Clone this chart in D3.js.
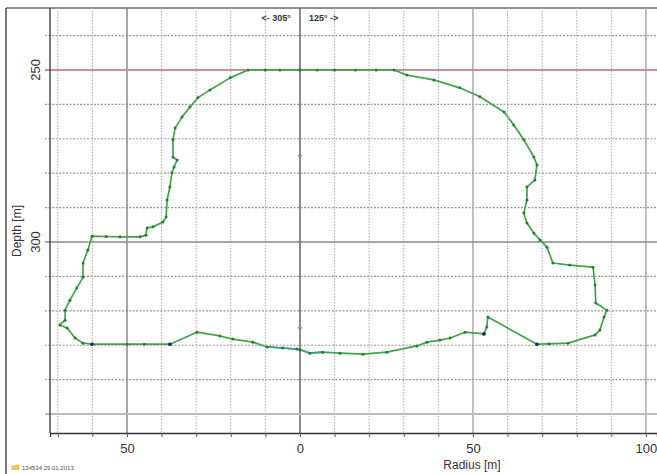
<!DOCTYPE html>
<html>
<head>
<meta charset="utf-8">
<script src="https://cdn.jsdelivr.net/npm/d3@7"></script>
<style>
  body { margin: 0; background: #fff; }
  svg { display: block; font-family: "Liberation Sans", Arial, sans-serif; }
</style>
</head>
<body>
<div id="chart"></div>
<script>
// sonar profile, radius [m] vs depth [m]
var w = 657, h = 474;

// 305° side (drawn to the left), from roof centre round to floor centre
var leftRadius = [0, 5.8, 10, 15.0, 20.2, 26.0, 29.5, 31.8, 34.1, 36.1, 36.7, 36.7, 35.5, 36.4, 37.0, 37.6, 38.4, 38.7, 39.6, 42.5, 44.2, 44.5, 46.2, 52.0, 56, 60.1,
  61.3, 62.7, 62.7, 64.5, 66.5, 67.9, 67.9, 69.4, 67.3, 65.0, 62.7, 60.1, 50, 45, 37.6, 29.8, 23.1, 19.4, 13.6, 9.5, 5, 0.9, 0];
var leftDepth = [250, 250, 250, 250, 252.3, 255.8, 258.1, 260.8, 263.7, 266.9, 270.3, 275.3, 276.2, 278.2, 279.9, 284.0, 287.8, 292.7, 294.2, 295.6, 295.9, 298.0, 298.5, 298.5, 298.4, 298.3,
  302.3, 306.1, 310.2, 313.4, 316.9, 319.8, 322.7, 324.1, 325.0, 327.9, 329.4, 329.7, 329.7, 329.7, 329.7, 326.2, 327.3, 328.2, 329.1, 330.5, 330.8, 331.1, 331.3];

// 125° side (drawn to the right)
var rightRadius = [0, 5, 10, 16, 22, 27.2, 30.9, 38.7, 46.2, 52.0, 59.0, 61.8, 64.7, 67.6, 68.5, 67.9, 65.6, 65.6, 64.7, 65.6, 67.6, 69.4, 71.4, 73.1, 78, 84.7,
  85.3, 85.5, 88.7, 87.9, 86.7, 85.3, 77.5, 72, 68.5, 54.3, 54.0, 53.2, 47.7, 43.4, 40.5, 36.7, 33.8, 25.1, 18.2, 11.6, 6.6, 2.9, 0];
var rightDepth = [250, 250, 250, 250, 250, 250, 251.5, 252.9, 255.2, 257.8, 262.2, 266.0, 270.3, 275.3, 277.6, 282.0, 284.0, 287.8, 291.6, 294.5, 297.4, 299.4, 301.5, 306.1, 306.7, 307.3,
  312.5, 317.7, 319.8, 321.8, 325.6, 327.0, 329.4, 329.6, 329.7, 321.8, 324.7, 326.7, 326.2, 327.9, 328.5, 329.1, 330.2, 332.0, 332.6, 332.3, 332.0, 332.3, 331.3];

// fixed survey points (dark markers)
var fixRadius = [-60.1, -37.6, 68.5, 53.2];
var fixDepth = [329.7, 329.7, 329.7, 326.7];

var xLabelTicks = [-50, 0, 50, 100];
var yLabelTicks = [250, 300];
var solidDepths = [300, 350];
var roofDepth = 250;
var dirLabels = ["<- 305°", "125° ->"];
var footer = "134534   29.01.2013";

var svg = d3.select("#chart").append("svg").attr("width", w).attr("height", h);

var plotLeft = 50, plotTop = 8, plotBottom = 433;

var x = d3.scaleLinear().domain([-72.25, 103.2]).range([plotLeft, w]);
var y = d3.scaleLinear().domain([232, 355.5]).range([plotTop, plotBottom]);

// frame
svg.append("line").attr("x1", 6).attr("x2", w).attr("y1", 8).attr("y2", 8).attr("stroke", "#222").attr("stroke-width", 1.2);
svg.append("line").attr("x1", 6).attr("x2", 6).attr("y1", 8).attr("y2", h).attr("stroke", "#222").attr("stroke-width", 1.2);

// dotted grid
var gx = d3.range(-70, 101, 10);
var gy = d3.range(240, 351, 10);
svg.append("g").selectAll("line").data(gx.filter(d => xLabelTicks.indexOf(d) < 0)).enter().append("line")
  .attr("x1", d => x(d)).attr("x2", d => x(d)).attr("y1", plotTop).attr("y2", plotBottom)
  .attr("stroke", "#aaa").attr("stroke-dasharray", "1.5,1.5");
svg.append("g").selectAll("line").data(gy.filter(d => d !== roofDepth && solidDepths.indexOf(d) < 0)).enter().append("line")
  .attr("x1", plotLeft - 5).attr("x2", w).attr("y1", d => y(d)).attr("y2", d => y(d))
  .attr("stroke", "#999").attr("stroke-width", 1.2).attr("stroke-dasharray", "2,1.5");

// solid lines
svg.append("g").selectAll("line").data(xLabelTicks).enter().append("line")
  .attr("x1", d => x(d)).attr("x2", d => x(d)).attr("y1", plotTop).attr("y2", plotBottom)
  .attr("stroke", d => d === 0 ? "#666" : (d < 0 ? "#888" : "#aaa")).attr("stroke-width", 1.5);
svg.append("g").selectAll("line").data(solidDepths).enter().append("line")
  .attr("x1", plotLeft - 5).attr("x2", w).attr("y1", d => y(d)).attr("y2", d => y(d))
  .attr("stroke", d => d === 300 ? "#888" : "#bbb").attr("stroke-width", d => d === 300 ? 1.6 : 2);
svg.append("line").attr("x1", plotLeft - 5).attr("x2", w).attr("y1", y(roofDepth)).attr("y2", y(roofDepth))
  .attr("stroke", "#c9909a").attr("stroke-width", 2);

// axes
var xAxis = d3.axisBottom(x).tickValues(gx).tickSize(4).tickPadding(7)
  .tickFormat(d => xLabelTicks.indexOf(d) >= 0 ? Math.abs(d) : "");
var gxa = svg.append("g").attr("transform", "translate(0," + plotBottom + ")").call(xAxis);
gxa.select(".domain").attr("stroke", "#333").attr("stroke-width", 1.3);
gxa.selectAll("line").attr("stroke", "#555");
gxa.selectAll("text").attr("font-size", 13).attr("fill", "#333").style("font-family", "Liberation Sans, Arial, sans-serif");

svg.append("line").attr("x1", plotLeft).attr("x2", plotLeft).attr("y1", plotTop).attr("y2", plotBottom).attr("stroke", "#333").attr("stroke-width", 1.3);

svg.append("g").selectAll("text").data(yLabelTicks).enter().append("text")
  .attr("transform", d => "translate(40," + y(d) + ") rotate(-90)")
  .attr("text-anchor", "middle").attr("font-size", 13).attr("fill", "#333").text(d => d);

svg.append("text").attr("transform", "translate(21,231) rotate(-90)")
  .attr("text-anchor", "middle").attr("font-size", 12).attr("fill", "#333").text("Depth [m]");
svg.append("text").attr("x", 472).attr("y", 469)
  .attr("text-anchor", "middle").attr("font-size", 12).attr("fill", "#333").text("Radius [m]");

// direction labels
svg.append("text").attr("x", x(0) - 9).attr("y", 21).attr("text-anchor", "end")
  .attr("font-size", 9).attr("font-weight", "bold").attr("fill", "#333").text(dirLabels[0]);
svg.append("text").attr("x", x(0) + 9).attr("y", 21).attr("text-anchor", "start")
  .attr("font-size", 9).attr("font-weight", "bold").attr("fill", "#333").text(dirLabels[1]);

// small marks on centre line
svg.append("g").selectAll("path").data([275, 300, 325]).enter().append("path")
  .attr("d", d => "M" + (x(0) - 2) + "," + (y(d) - 1) + "L" + x(0) + "," + (y(d) + 2) + "L" + (x(0) + 2) + "," + (y(d) - 1))
  .attr("fill", "none").attr("stroke", "#888");

// footer
svg.append("path").attr("d", "M12,466 h3 l1,-1 h3 v4.5 h-7z").attr("fill", "#e8d25a").attr("stroke", "#b9a030").attr("stroke-width", 0.5);
svg.append("text").attr("x", 22).attr("y", 470).attr("font-size", 6).attr("fill", "#555").text(footer);

// profiles
var leftPts = leftRadius.map((r, i) => [-r, leftDepth[i]]);
var rightPts = rightRadius.map((r, i) => [r, rightDepth[i]]);
var line = d3.line().x(d => x(d[0])).y(d => y(d[1]));

[leftPts, rightPts].forEach(function(pts) {
  svg.append("path").datum(pts).attr("d", line)
    .attr("fill", "none").attr("stroke", "#43a34d").attr("stroke-width", 1.7).attr("stroke-linejoin", "round");
  // floor near the centre is drawn teal in the original
  svg.append("path").datum(pts.filter(d => Math.abs(d[0]) <= 10 && d[1] > 328)).attr("d", line)
    .attr("fill", "none").attr("stroke", "#3a9fa5").attr("stroke-width", 1.7);
  svg.append("g").selectAll("circle").data(pts).enter().append("circle")
    .attr("cx", d => x(d[0])).attr("cy", d => y(d[1])).attr("r", 1.5)
    .attr("fill", "#2c7a35");
});

svg.append("g").selectAll("circle").data(fixRadius).enter().append("circle")
  .attr("cx", d => x(d)).attr("cy", (d, i) => y(fixDepth[i])).attr("r", 1.8)
  .attr("fill", "#1c2a6a");
</script>
</body>
</html>
